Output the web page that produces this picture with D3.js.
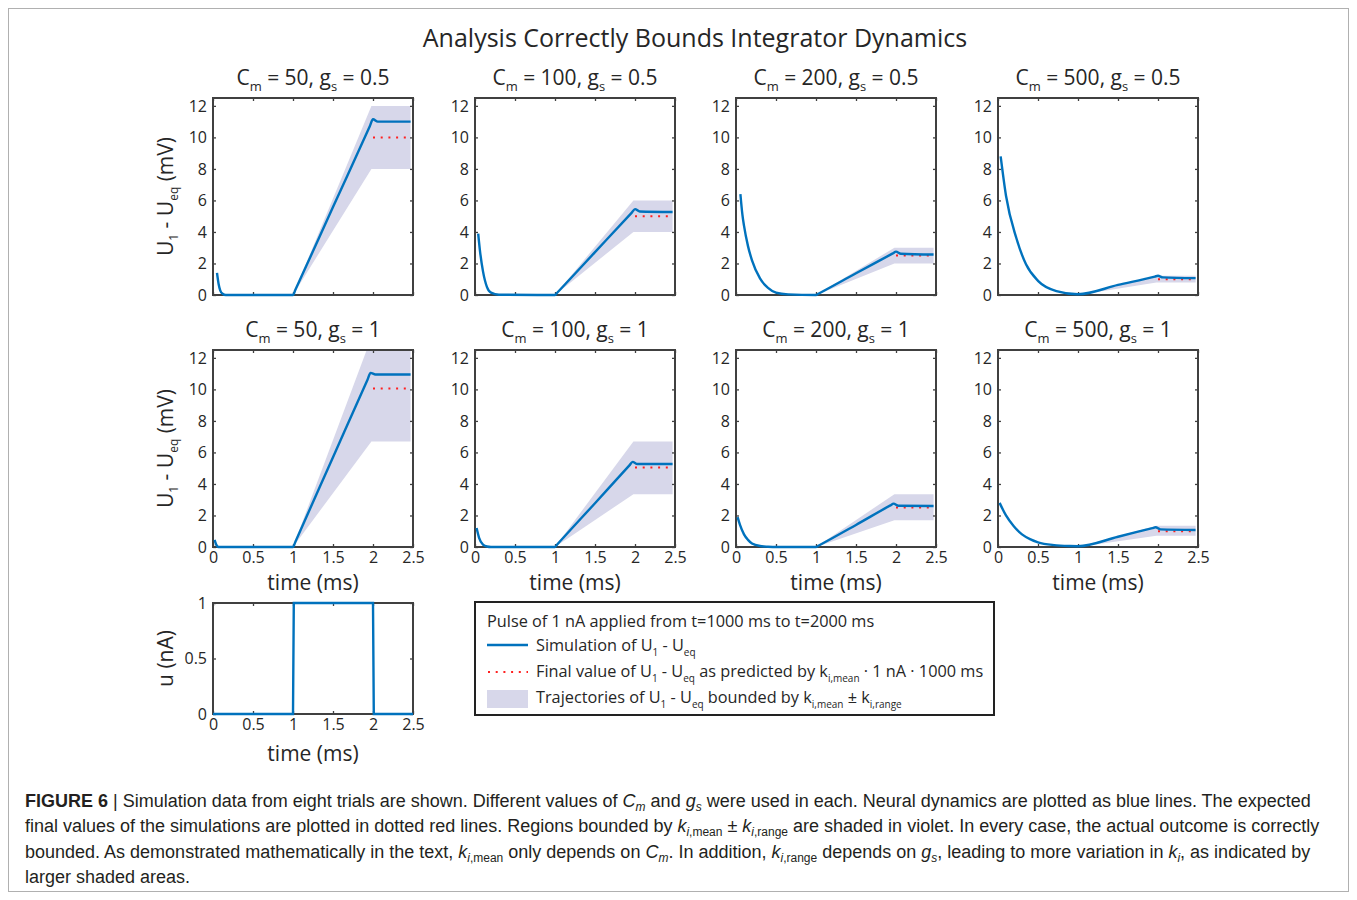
<!DOCTYPE html>
<html>
<head>
<meta charset="utf-8">
<script src="https://cdn.jsdelivr.net/npm/d3@7"></script>
<style>
  body { margin: 0; background: #fff; }
  svg { display: block; }
  text { font-family: 'Open Sans', sans-serif; fill: #262626; }
  .caption text { font-family: 'Liberation Sans', Arial, sans-serif; fill: #231f20; }
</style>
</head>
<body>
<div id="chart"></div>
<script>
// ---- data ----
var panelCm = [50, 100, 200, 500, 50, 100, 200, 500];
var panelGs = ["0.5", "0.5", "0.5", "0.5", "1", "1", "1", "1"];

// simulated U1 - Ueq (mV) against time
var simT = [
  [0.05, 0.07, 0.09, 0.12, 0.16, 1.0, 1.03, 1.5, 1.96, 2.0, 2.06, 2.47],
  [0.04, 0.06, 0.1, 0.15, 0.2, 0.3, 1.0, 1.03, 1.5, 1.96, 2.0, 2.06, 2.47],
  [0.055, 0.08, 0.1, 0.15, 0.2, 0.3, 0.4, 0.5, 0.65, 1.0, 1.03, 1.5, 1.96, 2.0, 2.06, 2.47],
  [0.033, 0.1, 0.23, 0.35, 0.5, 0.73, 1.0, 1.5, 1.96, 2.0, 2.06, 2.47],
  [0.02, 0.04, 0.07, 1.0, 1.03, 1.5, 1.93, 1.97, 2.03, 2.47],
  [0.02, 0.05, 0.1, 0.15, 0.2, 1.0, 1.03, 1.5, 1.93, 1.97, 2.03, 2.47],
  [0.02, 0.05, 0.1, 0.15, 0.2, 0.3, 0.4, 0.5, 1.0, 1.03, 1.5, 1.93, 1.97, 2.03, 2.47],
  [0.02, 0.1, 0.2, 0.3, 0.4, 0.5, 0.7, 0.9, 1.0, 1.5, 1.93, 1.97, 2.03, 2.47]
];
var simU = [
  [1.4, 0.7, 0.3, 0.08, 0, 0, 0.33, 5.58, 10.7, 11.15, 11.0, 11.0],
  [3.9, 2.9, 1.5, 0.5, 0.15, 0.02, 0, 0.16, 2.72, 5.23, 5.45, 5.3, 5.27],
  [6.4, 5.1, 4.4, 3.1, 2.2, 1.05, 0.45, 0.15, 0.04, 0, 0.08, 1.38, 2.64, 2.75, 2.62, 2.57],
  [8.8, 6.3, 3.6, 1.95, 0.9, 0.25, 0.05, 0.64, 1.17, 1.22, 1.12, 1.07],
  [0.45, 0.15, 0, 0, 0.34, 5.7, 10.6, 11.05, 10.95, 10.95],
  [1.2, 0.6, 0.15, 0.03, 0, 0, 0.17, 2.78, 5.18, 5.4, 5.27, 5.27],
  [1.9, 1.4, 0.8, 0.45, 0.22, 0.06, 0.02, 0, 0, 0.08, 1.4, 2.64, 2.75, 2.62, 2.6],
  [2.8, 2.0, 1.3, 0.8, 0.5, 0.3, 0.12, 0.06, 0.05, 0.65, 1.2, 1.25, 1.12, 1.08]
];

// predicted final value and the k_mean +/- k_range band
var finalValue = [10, 5, 2.5, 1, 10.05, 5.05, 2.5, 1];
var boundLow  = [8, 4, 2, 0.8, 6.7, 3.35, 1.7, 0.72];
var boundHigh = [12, 6, 3, 1.22, 13.3, 6.7, 3.35, 1.35];
var boundT = [1.0, 1.98, 2.47];
var finalT = [2.0, 2.47];

// input pulse u (nA)
var pulseT = [0, 1, 1.01, 2, 2.01, 2.5];
var pulseU = [0, 0, 1, 1, 0, 0];

var timeTicks = [0, 0.5, 1, 1.5, 2, 2.5];
var voltTicks = [0, 2, 4, 6, 8, 10, 12];
var pulseTicks = [0, 0.5, 1];

// ---- layout ----
var W = 1357, H = 900;
var colX = [213, 475, 736, 998];
var rowY = [98, 350];
var pw = 200, ph = 197;
var blue = "#0072bd", red = "#ff2020", shade = "#d7d7ea", frame = "#404040";
var fmt = d3.format("~g");

var svg = d3.select("#chart").append("svg")
    .attr("width", W).attr("height", H);

svg.append("rect")
    .attr("x", 8.5).attr("y", 8.5).attr("width", 1340).attr("height", 883)
    .attr("fill", "none").attr("stroke", "#b0b0b0");

// text with sub/italic/bold parts
function rich(sel, parts, subSize, shift) {
  var down = false;
  parts.forEach(function(p) {
    var ts = sel.append("tspan").text(p.t);
    if (p.sub) {
      ts.attr("font-size", subSize);
      if (!down) { ts.attr("dy", shift); down = true; }
    } else if (down) {
      ts.attr("dy", -shift); down = false;
    }
    if (p.i) ts.attr("font-style", "italic");
    if (p.b) ts.attr("font-weight", "bold");
  });
  return sel;
}
function N(t) { return {t: t}; }
function I(t) { return {t: t, i: true}; }
function S(t) { return {t: t, sub: true}; }
function SI(t) { return {t: t, sub: true, i: true}; }
function B(t) { return {t: t, b: true}; }

svg.append("text")
    .attr("x", 695).attr("y", 47)
    .attr("text-anchor", "middle")
    .attr("font-size", 25)
    .text("Analysis Correctly Bounds Integrator Dynamics");

var x = d3.scaleLinear().domain([0, 2.5]).range([0, pw]);

function styleAxis(a, fs) {
  a.select(".domain").remove();
  a.selectAll(".tick line").attr("stroke", frame).attr("stroke-width", 1.3);
  a.selectAll(".tick text").attr("fill", "#262626").attr("font-size", fs)
      .attr("font-family", "'Open Sans', sans-serif");
}

function drawAxes(g, y, yTicks, h, showX) {
  styleAxis(g.append("g").call(d3.axisLeft(y).tickValues(yTicks).tickFormat(fmt)
      .tickSize(-3).tickPadding(6)), 16);
  styleAxis(g.append("g").attr("transform", "translate(" + pw + ",0)")
      .call(d3.axisRight(y).tickValues(yTicks).tickSize(-3).tickFormat("")), 16);
  styleAxis(g.append("g").call(d3.axisTop(x).tickValues(timeTicks).tickSize(-3).tickFormat("")), 16);
  var xb = d3.axisBottom(x).tickValues(timeTicks).tickSize(-3).tickPadding(5)
      .tickFormat(showX ? fmt : "");
  styleAxis(g.append("g").attr("transform", "translate(0," + h + ")").call(xb), 16);
  g.append("rect").attr("width", pw).attr("height", h)
      .attr("fill", "none").attr("stroke", frame).attr("stroke-width", 2);
}

panelCm.forEach(function(cm, i) {
  var r = Math.floor(i / 4), c = i % 4;
  var g = svg.append("g").attr("transform", "translate(" + colX[c] + "," + rowY[r] + ")");
  var y = d3.scaleLinear().domain([0, 12.5]).range([ph, 0]);

  g.append("clipPath").attr("id", "clip" + i)
    .append("rect").attr("width", pw).attr("height", ph);

  var band = boundT.map(function(t, k) {
    return k === 0 ? {t: t, lo: 0, hi: 0} : {t: t, lo: boundLow[i], hi: boundHigh[i]};
  });
  g.append("path").datum(band)
      .attr("clip-path", "url(#clip" + i + ")")
      .attr("fill", shade)
      .attr("d", d3.area().x(function(d) { return x(d.t); })
          .y0(function(d) { return y(d.lo); }).y1(function(d) { return y(d.hi); }));

  drawAxes(g, y, voltTicks, ph, r === 1);

  g.append("path").datum(finalT)
      .attr("fill", "none").attr("stroke", red).attr("stroke-width", 2)
      .attr("stroke-dasharray", "2,5.7")
      .attr("d", d3.line().x(function(d) { return x(d); }).y(y(finalValue[i])));

  g.append("path").datum(simT[i])
      .attr("fill", "none").attr("stroke", blue).attr("stroke-width", 2.4)
      .attr("d", d3.line().curve(d3.curveMonotoneX)
          .x(function(d) { return x(d); })
          .y(function(d, k) { return y(simU[i][k]); }));

  rich(g.append("text").attr("x", pw / 2).attr("y", -13).attr("text-anchor", "middle")
      .attr("font-size", 21),
      [N("C"), S("m"), N(" = " + cm + ", g"), S("s"), N(" = " + panelGs[i])], 13, 6);

  if (c === 0) {
    rich(g.append("text").attr("transform", "translate(-40," + (ph / 2) + ") rotate(-90)")
        .attr("text-anchor", "middle").attr("font-size", 21),
        [N("U"), S("1"), N(" - U"), S("eq"), N(" (mV)")], 12, 5);
  }
  if (r === 1) {
    g.append("text").attr("x", pw / 2).attr("y", 240).attr("text-anchor", "middle")
        .attr("font-size", 21).text("time (ms)");
  }
});

// pulse panel
(function() {
  var h3 = 111;
  var g = svg.append("g").attr("transform", "translate(213,603)");
  var y = d3.scaleLinear().domain([0, 1]).range([h3, 0]);
  drawAxes(g, y, pulseTicks, h3, true);
  g.append("path").datum(pulseT)
      .attr("fill", "none").attr("stroke", blue).attr("stroke-width", 2.4)
      .attr("d", d3.line().x(function(d) { return x(d); })
          .y(function(d, k) { return y(pulseU[k]); }));
  g.append("text").attr("transform", "translate(-40," + (h3 / 2) + ") rotate(-90)")
      .attr("text-anchor", "middle").attr("font-size", 21).text("u (nA)");
  g.append("text").attr("x", pw / 2).attr("y", 158).attr("text-anchor", "middle")
      .attr("font-size", 21).text("time (ms)");
})();

// legend
(function() {
  var lg = svg.append("g").attr("transform", "translate(475,602)");
  var fs = 16.3;
  lg.append("rect").attr("width", 519).attr("height", 113)
      .attr("fill", "#fff").attr("stroke", "#222").attr("stroke-width", 2);
  lg.append("text").attr("x", 12).attr("y", 25).attr("font-size", fs)
      .text("Pulse of 1 nA applied from t=1000 ms to t=2000 ms");
  lg.append("line").attr("x1", 12).attr("x2", 53).attr("y1", 43).attr("y2", 43)
      .attr("stroke", blue).attr("stroke-width", 2.4);
  lg.append("line").attr("x1", 13).attr("x2", 53).attr("y1", 70).attr("y2", 70)
      .attr("stroke", red).attr("stroke-width", 2).attr("stroke-dasharray", "2,5.7");
  lg.append("rect").attr("x", 12).attr("y", 88).attr("width", 41).attr("height", 18)
      .attr("fill", shade);
  rich(lg.append("text").attr("x", 61).attr("y", 49).attr("font-size", fs),
      [N("Simulation of U"), S("1"), N(" - U"), S("eq")], 10, 5);
  rich(lg.append("text").attr("x", 61).attr("y", 75).attr("font-size", fs),
      [N("Final value of U"), S("1"), N(" - U"), S("eq"), N(" as predicted by k"), S("i,mean"),
       N(" \u00b7 1 nA \u00b7 1000 ms")], 10, 5);
  rich(lg.append("text").attr("x", 61).attr("y", 101).attr("font-size", fs),
      [N("Trajectories of U"), S("1"), N(" - U"), S("eq"), N(" bounded by k"), S("i,mean"),
       N(" \u00b1 k"), S("i,range")], 10, 5);
})();

// caption
var captionLines = [
  [B("FIGURE 6"), N(" | Simulation data from eight trials are shown. Different values of "), I("C"), SI("m"),
   N(" and "), I("g"), SI("s"), N(" were used in each. Neural dynamics are plotted as blue lines. The expected")],
  [N("final values of the simulations are plotted in dotted red lines. Regions bounded by "), I("k"), SI("i"),
   S(",mean"), N(" \u00b1 "), I("k"), SI("i"), S(",range"),
   N(" are shaded in violet. In every case, the actual outcome is correctly")],
  [N("bounded. As demonstrated mathematically in the text, "), I("k"), SI("i"), S(",mean"),
   N(" only depends on "), I("C"), SI("m"), N(". In addition, "), I("k"), SI("i"), S(",range"),
   N(" depends on "), I("g"), SI("s"), N(", leading to more variation in "), I("k"), SI("i"),
   N(", as indicated by")],
  [N("larger shaded areas.")]
];
var cap = svg.append("g").attr("class", "caption");
captionLines.forEach(function(parts, k) {
  rich(cap.append("text").attr("x", 25).attr("y", 807 + k * 25.3).attr("font-size", 18),
      parts, 12, 4);
});
</script>
</body>
</html>
